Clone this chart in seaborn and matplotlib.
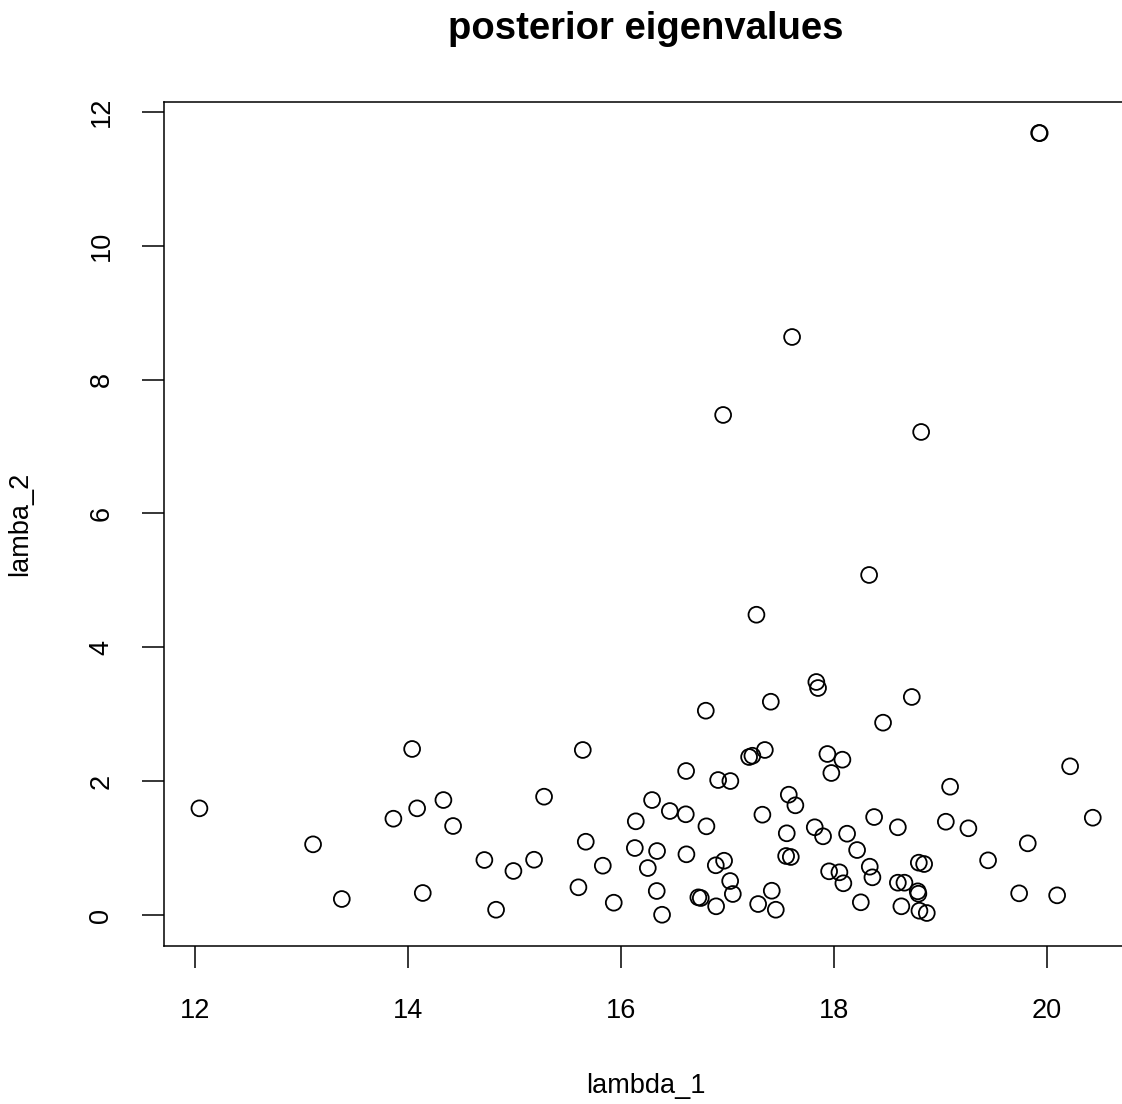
import matplotlib
matplotlib.use("Agg")
import matplotlib.pyplot as plt
import numpy as np
import pandas as pd
import seaborn as sns

# Posterior draws of the two leading eigenvalues
lambda_1 = [
    12.038, 13.106, 13.376, 13.861, 14.037, 14.084, 14.137, 14.331, 14.422, 14.716,
    14.826, 14.989, 15.183, 15.277, 15.641, 15.669, 15.829, 15.600, 15.932, 16.139,
    16.130, 16.252, 16.292, 16.339, 16.336, 16.386, 16.459, 16.612, 16.609, 16.615,
    16.803, 16.913, 17.028, 16.891, 16.969, 17.026, 17.051, 16.727, 16.750, 16.894,
    17.204, 17.235, 17.352, 17.329, 17.289, 17.417, 17.455, 17.577, 17.639, 17.558,
    17.552, 17.596, 17.940, 18.081, 17.977, 17.821, 17.899, 18.125, 17.956, 18.053,
    18.090, 18.219, 18.254, 18.379, 18.602, 18.338, 18.363, 18.463, 19.093, 19.053,
    19.265, 18.799, 18.849, 18.602, 18.664, 18.789, 18.795, 18.635, 18.805, 18.874,
    20.221, 20.434, 19.823, 19.450, 19.742, 20.099, 17.273, 18.332, 17.836, 17.852,
    17.408, 16.797, 18.733, 19.930, 19.935, 17.608, 16.960, 18.821,
]
lambda_2 = [
    1.594, 1.056, 0.239, 1.439, 2.481, 1.594, 0.329, 1.718, 1.330, 0.822,
    0.079, 0.658, 0.826, 1.768, 2.466, 1.095, 0.737, 0.414, 0.184, 1.400,
    1.001, 0.702, 1.718, 0.956, 0.359, 0.004, 1.554, 2.152, 1.505, 0.907,
    1.325, 2.017, 2.002, 0.743, 0.811, 0.508, 0.314, 0.264, 0.254, 0.130,
    2.361, 2.380, 2.466, 1.499, 0.164, 0.363, 0.079, 1.798, 1.639, 1.221,
    0.882, 0.867, 2.406, 2.321, 2.122, 1.311, 1.176, 1.215, 0.653, 0.638,
    0.474, 0.971, 0.190, 1.464, 1.311, 0.722, 0.563, 2.874, 1.917, 1.394,
    1.296, 0.782, 0.762, 0.483, 0.483, 0.354, 0.318, 0.130, 0.064, 0.030,
    2.222, 1.454, 1.071, 0.817, 0.324, 0.294, 4.487, 5.081, 3.482, 3.392,
    3.187, 3.053, 3.258, 11.686, 11.683, 8.637, 7.472, 7.218,
]
x_ticks = [12, 14, 16, 18, 20]
y_ticks = [0, 2, 4, 6, 8, 10, 12]

df = pd.DataFrame({"lambda_1": lambda_1, "lambda_2": lambda_2})

sns.set_style("ticks")
plt.rcParams["font.family"] = ["Liberation Sans", "DejaVu Sans"]
plt.rcParams["text.color"] = "black"
plt.rcParams["axes.labelcolor"] = "black"
plt.rcParams["xtick.color"] = "black"
plt.rcParams["ytick.color"] = "black"

fig = plt.figure(figsize=(11.22, 11.04), dpi=100)
ax = fig.add_axes([0.1459, 0.1431, 0.8599, 0.7648])

sns.scatterplot(data=df, x="lambda_1", y="lambda_2", ax=ax,
                marker="o", s=130, facecolor="none", edgecolor="black",
                linewidth=1.3, legend=False)

# Axis ranges padded by 4% of the data span on each side
def padded(v):
    lo, hi = min(v), max(v)
    d = 0.04 * (hi - lo)
    return lo - d, hi + d

ax.set_xlim(*padded(lambda_1))
ax.set_ylim(*padded(lambda_2))
ax.set_xticks(x_ticks)
ax.set_yticks(y_ticks)
ax.set_xticklabels([str(t) for t in x_ticks])
ax.set_yticklabels([str(t) for t in y_ticks], rotation=90, va="center")

for sp in ax.spines.values():
    sp.set_linewidth(1.1)
    sp.set_color("black")
    sp.set_visible(True)

ax.tick_params(axis="both", direction="out", length=15.5, width=1.1,
               colors="black", labelcolor="black", labelsize=19.5)
ax.tick_params(axis="x", pad=22)
ax.tick_params(axis="y", pad=20)

ax.set_xlabel("lambda_1", fontsize=19.5, labelpad=35, color="black")
ax.set_ylabel("lamba_2", fontsize=19.5, labelpad=40, color="black")
fig.text(0.5755, 0.9735, "posterior eigenvalues", ha="center", va="center",
         fontsize=27.5, fontweight="bold", color="black")

fig.savefig("out.png", dpi=100, facecolor="white")
